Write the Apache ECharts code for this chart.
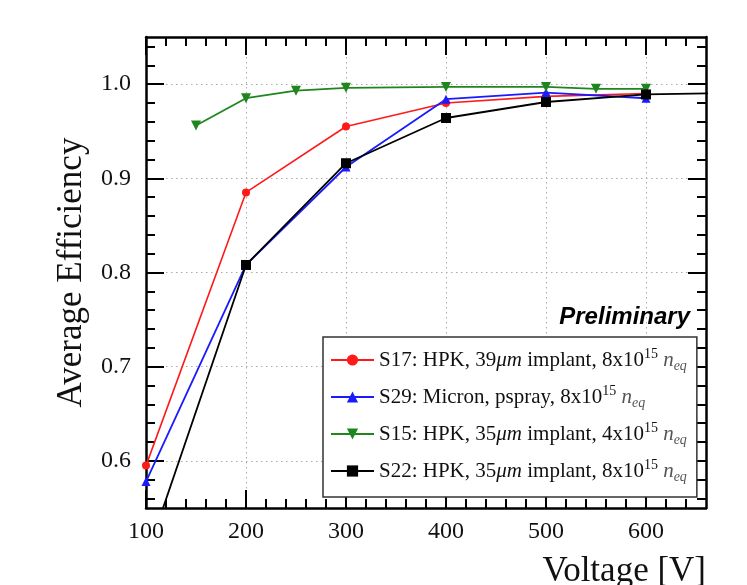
<!DOCTYPE html>
<html><head><meta charset="utf-8">
<script src="https://cdn.jsdelivr.net/npm/echarts@6/dist/echarts.min.js"></script>
<style>html,body{margin:0;padding:0;background:#fff}#c{width:747px;height:585px}</style>
</head><body><div id="c"></div>
<script>
// ---- tick values ----
const X_MAJOR = [100, 200, 300, 400, 500, 600];
const X_MINOR = [120, 140, 160, 180, 220, 240, 260, 280, 320, 340, 360, 380, 420, 440, 460, 480, 520, 540, 560, 580, 620, 640];
const Y_MAJOR = [0.6, 0.7, 0.8, 0.9, 1.0];
const Y_MINOR = [0.56, 0.58, 0.62, 0.64, 0.66, 0.68, 0.72, 0.74, 0.76, 0.78, 0.82, 0.84, 0.86, 0.88, 0.92, 0.94, 0.96, 0.98, 1.02, 1.04];

// ---- series data ----
const S17_V = [100, 200, 300, 400, 500, 600];
const S17_E = [0.595, 0.885, 0.955, 0.980, 0.987, 0.990];
const S29_V = [100, 200, 300, 400, 500, 600];
const S29_E = [0.578, 0.808, 0.912, 0.984, 0.991, 0.985];
const S15_V = [150, 200, 250, 300, 400, 500, 550, 600];
const S15_E = [0.956, 0.985, 0.993, 0.996, 0.997, 0.997, 0.995, 0.995];
const S22_V = [100, 200, 300, 400, 500, 600, 700];
const S22_E = [0.497, 0.808, 0.916, 0.964, 0.981, 0.989, 0.991];

// ---- legend labels ----
const NAMES = ['S17', 'S29', 'S15', 'S22'];
const LABELS = {
  S17: 'S17: HPK, 39{i|μm} implant, 8x10{sup|15} {n|n}{sub|eq}',
  S29: 'S29: Micron, pspray, 8x10{sup|15} {n|n}{sub|eq}',
  S15: 'S15: HPK, 35{i|μm} implant, 4x10{sup|15} {n|n}{sub|eq}',
  S22: 'S22: HPK, 35{i|μm} implant, 8x10{sup|15} {n|n}{sub|eq}'
};

const SERIF = 'Liberation Serif';
const zip = (a, b) => a.map((v, i) => [v, b[i]]);

function xAx(pos, ticks, len, opts) {
  return Object.assign({
    type: 'value', position: pos, min: 100, max: 660,
    axisLine: { show: false, onZero: false },
    axisTick: { show: true, inside: true, length: len, customValues: ticks, lineStyle: { color: '#000', width: 2 } },
    axisLabel: { show: false },
    splitLine: { show: false }
  }, opts || {});
}
function yAx(pos, ticks, len, opts) {
  return Object.assign({
    type: 'value', position: pos, min: 0.55, max: 1.05,
    axisLine: { show: false, onZero: false },
    axisTick: { show: true, inside: true, length: len, customValues: ticks, lineStyle: { color: '#000', width: 2 } },
    axisLabel: { show: false },
    splitLine: { show: false }
  }, opts || {});
}
const frameLine = { show: true, onZero: false, lineStyle: { color: '#000', width: 2.5 } };
const gridLine = { show: true, lineStyle: { color: '#aaa', width: 1, type: [1.5, 3.5] } };

const option = {
  backgroundColor: '#fff',
  animation: false,
  title: {
    text: 'Preliminary', right: 57, top: 305, padding: 0,
    textStyle: { fontFamily: 'Liberation Sans', fontStyle: 'italic', fontWeight: 'bold', fontSize: 24, color: '#000' }
  },
  grid: { left: 146, top: 37, width: 560, height: 471, outerBoundsMode: 'none', containLabel: false },
  xAxis: [
    xAx('bottom', X_MAJOR, 18, {
      axisLine: frameLine, splitLine: gridLine,
      axisLabel: { show: true, customValues: X_MAJOR, margin: 12, fontFamily: SERIF, fontSize: 24, color: '#111' },
      name: 'Voltage [V]', nameLocation: 'end', nameGap: 0,
      nameTextStyle: { fontFamily: SERIF, fontSize: 35, color: '#111', align: 'right', verticalAlign: 'top', padding: [46, 0, 0, 0] }
    }),
    xAx('bottom', X_MINOR, 9),
    xAx('top', X_MAJOR, 18, { axisLine: frameLine }),
    xAx('top', X_MINOR, 9)
  ],
  yAxis: [
    yAx('left', Y_MAJOR, 18, {
      axisLine: frameLine, splitLine: gridLine,
      axisLabel: { show: true, customValues: Y_MAJOR, margin: 15, fontFamily: SERIF, fontSize: 24, color: '#111', formatter: v => v.toFixed(1) },
      name: 'Average Efficiency', nameLocation: 'middle', nameGap: 57,
      nameTextStyle: { fontFamily: SERIF, fontSize: 35, color: '#111' }
    }),
    yAx('left', Y_MINOR, 9),
    yAx('right', Y_MAJOR, 18, { axisLine: frameLine }),
    yAx('right', Y_MINOR, 9)
  ],
  legend: {
    orient: 'vertical', left: 323, top: 337,
    padding: [10, 10, 13, 7], itemGap: 11, itemWidth: 43, itemHeight: 14,
    backgroundColor: '#fff', borderColor: '#333', borderWidth: 1.5, borderRadius: 0,
    selectedMode: false,
    data: NAMES,
    formatter: name => LABELS[name],
    textStyle: {
      fontFamily: SERIF, fontSize: 21, color: '#111', lineHeight: 26,
      rich: {
        i: { fontFamily: SERIF, fontStyle: 'italic', fontSize: 21, color: '#111', lineHeight: 26 },
        n: { fontFamily: SERIF, fontStyle: 'italic', fontSize: 21, color: '#555', lineHeight: 26 },
        sup: { fontFamily: SERIF, fontSize: 14, color: '#111', lineHeight: 13, verticalAlign: 'top' },
        sub: { fontFamily: SERIF, fontStyle: 'italic', fontSize: 14, color: '#555', lineHeight: 13, verticalAlign: 'bottom' }
      }
    }
  },
  series: [
    { name: 'S17', type: 'line', data: zip(S17_V, S17_E), color: '#ff1a1a', symbol: 'circle', symbolSize: 8,
      lineStyle: { width: 1.6 } },
    { name: 'S29', type: 'line', data: zip(S29_V, S29_E), color: '#1a1aff', symbol: 'triangle', symbolSize: 9,
      lineStyle: { width: 1.8 } },
    { name: 'S15', type: 'line', data: zip(S15_V, S15_E), color: '#1f861f', symbol: 'triangle', symbolRotate: 180, symbolSize: 10,
      lineStyle: { width: 1.8 } },
    { name: 'S22', type: 'line', data: zip(S22_V, S22_E), color: '#000', symbol: 'rect', symbolSize: 10,
      lineStyle: { width: 1.8 } }
  ]
};
const chart = echarts.init(document.getElementById('c'), null, { renderer: 'canvas' });
chart.setOption(option);
</script></body></html>
